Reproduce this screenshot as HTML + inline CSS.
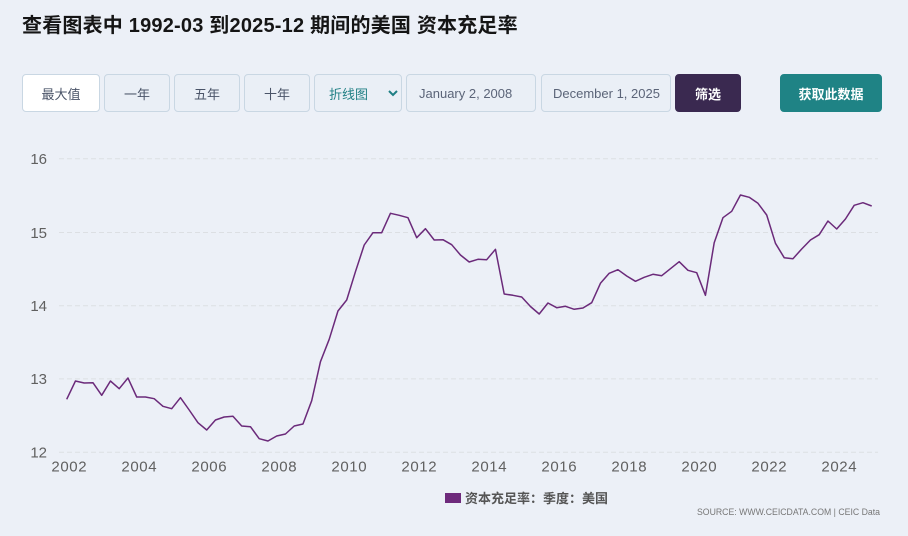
<!DOCTYPE html>
<html>
<head>
<meta charset="utf-8">
<style>
  html,body{margin:0;padding:0;}
  body{width:908px;height:536px;background:#ecf0f7;position:relative;overflow:hidden;font-family:"Liberation Sans","Noto Sans CJK SC",sans-serif;}
  .title{position:absolute;left:22px;top:16px;font-size:20px;line-height:20px;font-weight:bold;color:#151515;white-space:nowrap;letter-spacing:0.2px;}
  .btn{position:absolute;top:74px;height:36px;border:1px solid #c9d7e3;border-radius:4px;box-sizing:content-box;background:#eaeff6;font-size:13px;color:#4a5468;display:flex;align-items:center;justify-content:center;white-space:nowrap;}
  .white{background:#ffffff;}
  .teal{color:#1f7f84;}
  .date{justify-content:flex-start;padding-left:0;color:#5b6478;}
  .dark{background:#3a2950;border-color:#3a2950;color:#fff;font-weight:bold;}
  .green{background:#1f8385;border-color:#1f8385;color:#fff;font-weight:bold;}
</style>
</head>
<body>
<div class="title">查看图表中 1992-03 到2025-12 期间的美国 资本充足率</div>

<div class="btn white" style="left:22px;width:76px;">最大值</div>
<div class="btn" style="left:104px;width:64px;">一年</div>
<div class="btn" style="left:174px;width:64px;">五年</div>
<div class="btn" style="left:244px;width:64px;">十年</div>
<div class="btn teal" style="left:314px;width:86px;justify-content:flex-start;">
  <span style="margin-left:14px;">折线图</span>
  <svg style="position:absolute;left:73px;top:15px;" width="10" height="7" viewBox="0 0 10 7"><polyline points="1,1 5,5 9,1" fill="none" stroke="#1f7f84" stroke-width="2"/></svg>
</div>
<div class="btn date" style="left:406px;width:128px;"><span style="margin-left:12px;">January 2, 2008</span></div>
<div class="btn date" style="left:541px;width:128px;"><span style="margin-left:11px;">December 1, 2025</span></div>
<div class="btn dark" style="left:675px;width:64px;">筛选</div>
<div class="btn green" style="left:780px;width:100px;">获取此数据</div>

<svg style="position:absolute;left:0;top:0;" width="908" height="536" viewBox="0 0 908 536">
  <g stroke="#dcdfe3" stroke-width="1" stroke-dasharray="5,3">
    <line x1="59" y1="158.7" x2="878" y2="158.7"/>
    <line x1="59" y1="232.5" x2="878" y2="232.5"/>
    <line x1="59" y1="305.7" x2="878" y2="305.7"/>
    <line x1="59" y1="378.9" x2="878" y2="378.9"/>
    <line x1="59" y1="452.3" x2="878" y2="452.3"/>
  </g>
  <g font-family="Liberation Sans, sans-serif" font-size="15" fill="#606060" text-anchor="end">
    <text x="47" y="164">16</text>
    <text x="47" y="238">15</text>
    <text x="47" y="311">14</text>
    <text x="47" y="384">13</text>
    <text x="47" y="457.5">12</text>
  </g>
  <g font-family="Liberation Sans, sans-serif" font-size="15" fill="#606060" text-anchor="middle" letter-spacing="0.6">
    <text x="69.3" y="471.5">2002</text>
    <text x="139.3" y="471.5">2004</text>
    <text x="209.3" y="471.5">2006</text>
    <text x="279.3" y="471.5">2008</text>
    <text x="349.3" y="471.5">2010</text>
    <text x="419.3" y="471.5">2012</text>
    <text x="489.3" y="471.5">2014</text>
    <text x="559.3" y="471.5">2016</text>
    <text x="629.3" y="471.5">2018</text>
    <text x="699.3" y="471.5">2020</text>
    <text x="769.3" y="471.5">2022</text>
    <text x="839.3" y="471.5">2024</text>
  </g>
  <polyline fill="none" stroke="#6b2a7a" stroke-width="1.5" stroke-linejoin="round" points="
66.7,399.3 75.45,381 84.2,383 92.95,382.7 101.7,395.3 110.45,381 119.2,388.7 127.95,378 136.7,397 145.45,397
154.2,398.7 162.95,406.3 171.7,408.7 180.45,397.7 189.2,410 197.95,422.7 206.7,430 215.45,420 224.2,417 232.95,416.3
241.7,426 250.45,426.7 259.2,438.7 267.95,441 276.7,436 285.45,434 294.2,426 302.95,424 311.7,400.7 320.45,361.7
329.2,339.3 337.95,311 346.7,300 355.45,271.7 364.2,245 372.95,232.7 381.7,232.7 390.45,213.3 399.2,215.3 407.95,217.7
416.7,237.7 425.45,228.7 434.2,240 442.95,239.7 451.7,244.7 460.45,255 469.2,262 477.95,259.3 486.7,259.7 495.45,249.3
504.2,294 512.95,295.3 521.7,297 530.45,306.5 539.2,314 547.95,303 556.7,307.7 565.45,306.3 574.2,309.3 582.95,308
591.7,302.7 600.45,283.3 609.2,273.3 617.95,269.7 626.7,276 635.45,281.3 644.2,277.3 652.95,274.3 661.7,275.7 670.45,268.7
679.2,261.7 687.95,270.3 696.7,272.7 705.45,295.3 714.2,242.7 722.95,217.7 731.7,211.3 740.45,195 749.2,197.3 757.95,203.3
766.7,215 775.45,243.3 784.2,257.7 792.95,258.7 801.7,249 810.45,240 819.2,234.7 827.95,221 836.7,229 845.45,219
854.2,205.3 862.95,202.7 871.7,206"/>
  <rect x="445" y="493" width="16" height="10" fill="#6e2a7c"/>
  <text x="465" y="503" font-family="Liberation Sans, Noto Sans CJK SC, sans-serif" font-size="13" font-weight="bold" fill="#555">资本充足率：季度：美国</text>
  <text x="880" y="515" text-anchor="end" font-family="Liberation Sans, sans-serif" font-size="9" fill="#777" textLength="183" lengthAdjust="spacingAndGlyphs">SOURCE: WWW.CEICDATA.COM | CEIC Data</text>
</svg>
</body>
</html>
